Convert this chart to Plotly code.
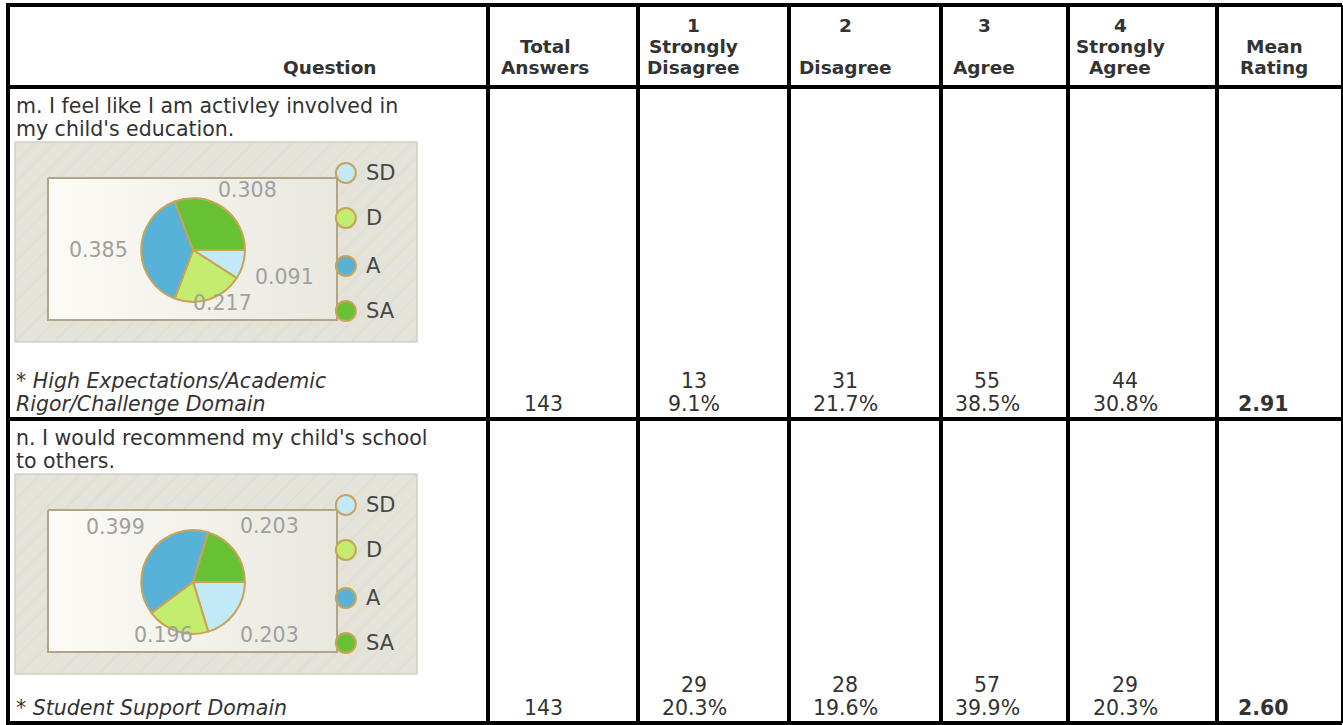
import math
import plotly.graph_objects as go

# ---------------- data ----------------
header_lines = [
    ["", "", "Question"],
    ["", "Total", "Answers"],
    ["1", "Strongly", "Disagree"],
    ["2", "", "Disagree"],
    ["3", "", "Agree"],
    ["4", "Strongly", "Agree"],
    ["", "Mean", "Rating"],
]
question_lines = [
    ["m. I feel like I am activley involved in", "my child's education."],
    ["n. I would recommend my child's school", "to others."],
]
domain_lines = [
    ["* High Expectations/Academic", "Rigor/Challenge Domain"],
    ["* Student Support Domain"],
]
rating_keys = ["SD", "D", "A", "SA"]
rating_scores = [1, 2, 3, 4]
total_answers = [143, 143]
strongly_disagree = [13, 29]
disagree = [31, 28]
agree = [55, 57]
strongly_agree = [44, 29]

# ---------------- layout constants ----------------
W, H = 1343, 725
FONT = "DejaVu Sans"
TXT = "#333333"
col_x = [8, 488, 638, 789, 941, 1068, 1217, 1342]
top_y = 5
header_bottom = 87
row_tops = [87, 419]
row_bottoms = [419, 723]
header_cx = [330, 545, 693, 845, 984, 1120, 1274]
data_cx = [None, 543, 694, 845, 987, 1125, 1263]
HLINE = 21
LINE = 23
FS = 20.5
HFS = 18.5

slice_colors = ["#c2eaf6", "#c4ec6e", "#58b1d7", "#68c132"]
edge_col = "#c9a458"

fig = go.Figure()
ann = []


def text(x, y, s, size=FS, color=TXT, xanchor="center", yanchor="middle"):
    ann.append(dict(x=x, y=y, xref="x", yref="y", text=s, showarrow=False,
                    xanchor=xanchor, yanchor=yanchor, borderpad=0,
                    font=dict(family=FONT, size=size, color=color)))


# header
for ci, lines in enumerate(header_lines):
    for li, s in enumerate(lines):
        if s:
            text(header_cx[ci], 67 - (2 - li) * HLINE, "<b>" + s + "</b>", size=HFS)


def chart(ri, x0, y0, w, h):
    counts = [strongly_disagree[ri], disagree[ri], agree[ri], strongly_agree[ri]]
    tot = sum(counts)
    # hatched background
    fig.add_trace(go.Scatter(
        x=[x0, x0 + w, x0 + w, x0, x0], y=[y0, y0, y0 + h, y0 + h, y0],
        mode="lines", fill="toself", line=dict(color="#d3d1c3", width=1.5),
        fillcolor="#e4e3d9",
        fillpattern=dict(shape="/", bgcolor="#e4e3d9", fgcolor="#d7d6c9", size=14, solidity=0.1),
        hoverinfo="skip", showlegend=False))
    fx0, fx1 = x0 + 0.082 * w, x0 + 0.801 * w
    fy0, fy1 = y0 + 0.18 * h, y0 + 0.89 * h
    fig.add_trace(go.Scatter(
        x=[fx0, fx1, fx1, fx0, fx0], y=[fy0, fy0, fy1, fy1, fy0],
        mode="lines", fill="toself", line=dict(color="#b1a586", width=2),
        fillgradient=dict(type="horizontal", colorscale=[[0, "#fcfbf6"], [1, "#e9e8df"]]),
        hoverinfo="skip", showlegend=False))
    cx, cy = x0 + 0.443 * w, y0 + 0.54 * h
    r = 0.129 * w
    fig.add_trace(go.Pie(
        values=counts, labels=rating_keys, sort=False, direction="clockwise", rotation=90,
        marker=dict(colors=slice_colors, line=dict(color=edge_col, width=2)),
        textinfo="none", hoverinfo="skip", showlegend=False,
        domain=dict(x=[(cx - r) / W, (cx + r) / W], y=[1 - (cy + r) / H, 1 - (cy - r) / H])))
    # value labels placed along each slice's mid-angle, kept inside the frame band
    cum = 0
    R = 1.83 * r
    for v in counts:
        a = 2 * math.pi * (cum + v / 2) / tot
        cum += v
        dx, dy = R * math.cos(a), R * math.sin(a)
        dy = max(-1.15 * r, min(1.02 * r, dy))
        text(cx + dx, cy + dy, f"{v / tot:.3f}", size=20.5, color="#a0a0a0")
    # legend
    lx = x0 + 0.823 * w
    lys = [y0 + f * h for f in (0.155, 0.38, 0.62, 0.845)]
    fig.add_trace(go.Scatter(
        x=[lx] * 4, y=lys, mode="markers",
        marker=dict(size=20, color=slice_colors, line=dict(color=edge_col, width=2)),
        hoverinfo="skip", showlegend=False))
    for k, yy in zip(rating_keys, lys):
        text(x0 + 0.871 * w, yy, k, size=21, color="#474747", xanchor="left")


for ri in range(2):
    rt, rb = row_tops[ri], row_bottoms[ri]
    for li, s in enumerate(question_lines[ri]):
        text(15, rt + 19 + li * LINE, s, xanchor="left")
    chart(ri, 15, rt + 55, 402, 200)
    dl = domain_lines[ri]
    for li, s in enumerate(dl):
        text(15, rb - 15 - (len(dl) - 1 - li) * LINE, "<i>" + s + "</i>", xanchor="left")
    tot = total_answers[ri]
    text(data_cx[1], rb - 15, str(tot))
    counts = [strongly_disagree[ri], disagree[ri], agree[ri], strongly_agree[ri]]
    for k, c in enumerate(counts):
        text(data_cx[2 + k], rb - 15 - LINE, str(c))
        text(data_cx[2 + k], rb - 15, f"{100 * c / tot:.1f}%")
    mean = sum(s * c for s, c in zip(rating_scores, counts)) / tot
    text(data_cx[6], rb - 15, f"<b>{mean:.2f}</b>")

# grid lines
shapes = []
for x in col_x[:-1]:
    shapes.append(dict(type="line", xref="x", yref="y", x0=x, x1=x, y0=top_y - 2, y1=row_bottoms[-1] + 2,
                       line=dict(color="black", width=4)))
shapes.append(dict(type="line", xref="x", yref="y", x0=col_x[-1], x1=col_x[-1], y0=top_y,
                   y1=row_bottoms[-1], line=dict(color="black", width=2)))
for y in [top_y, header_bottom] + row_bottoms:
    shapes.append(dict(type="line", xref="x", yref="y", x0=col_x[0] - 2, x1=col_x[-1], y0=y, y1=y,
                       line=dict(color="black", width=4)))

fig.update_layout(
    width=W, height=H, margin=dict(l=0, r=0, t=0, b=0, pad=0), autosize=False,
    paper_bgcolor="white", plot_bgcolor="white",
    xaxis=dict(range=[0, W], visible=False, fixedrange=True),
    yaxis=dict(range=[H, 0], visible=False, fixedrange=True),
    annotations=ann, shapes=shapes, showlegend=False,
)
fig.write_html("out.html", config={"displayModeBar": False},
               post_script="document.body.style.margin='0';document.body.style.overflow='hidden';")
